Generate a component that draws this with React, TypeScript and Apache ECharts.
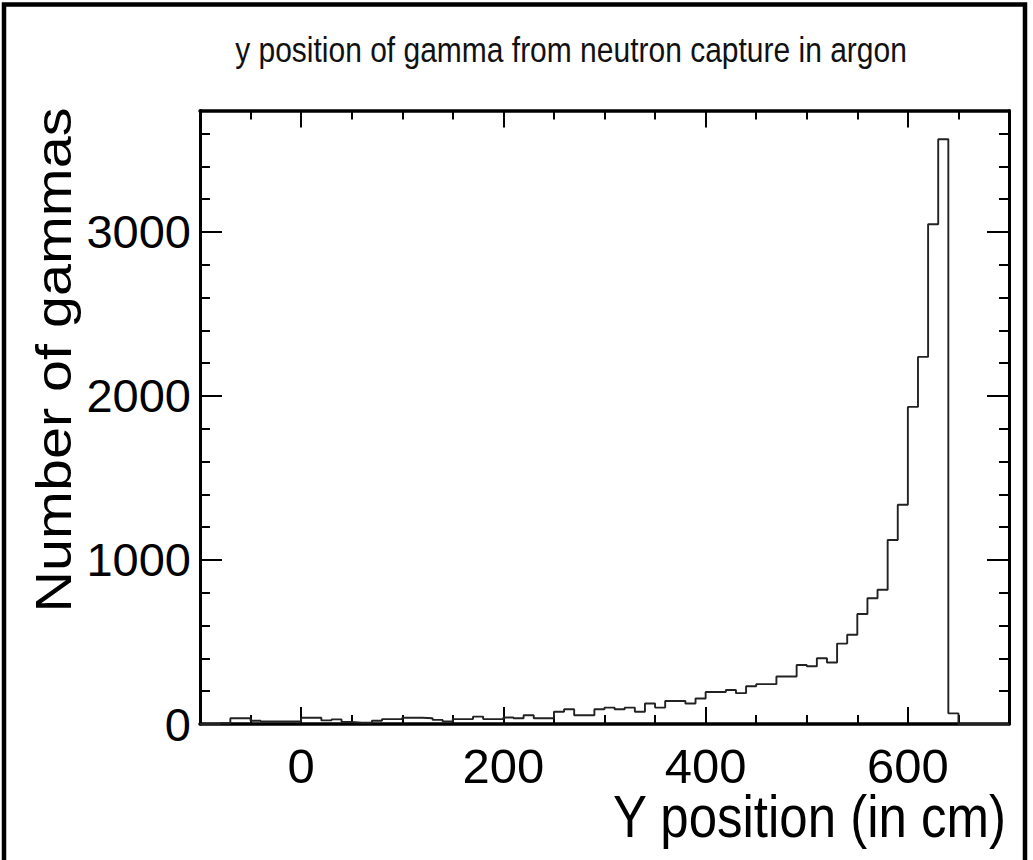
import React, { useEffect, useRef } from "react";
import * as echarts from "echarts";

// Histogram definition: 80 bins of 10 cm from -100 cm
const binStart = -100;
const binWidth = 10;
const counts = [
  0, 0, 5, 35, 35, 20, 15, 15, 15, 15,
  38, 38, 22, 28, 12, 8, 8, 20, 30, 30,
  38, 38, 35, 25, 15, 30, 30, 45, 30, 30,
  40, 35, 53, 35, 35, 75, 90, 53, 53, 90,
  100, 90, 100, 75, 125, 100, 140, 140, 125, 155,
  195, 195, 207, 188, 230, 243, 243, 290, 290, 360,
  352, 401, 375, 490, 544, 671, 767, 818, 1122, 1337,
  1933, 2238, 3047, 3565, 65, 0, 0, 0, 0, 0,
];

const xMin = -100;
const xMax = 700;
const yMin = 0;
const yMax = 3740;
const xMajorTicks = [0, 200, 400, 600];
const xMinorTicks = [-50, 50, 100, 150, 250, 300, 350, 450, 500, 550, 650];
const yMajorTicks = [0, 1000, 2000, 3000];
const yMinorTicks = [200, 400, 600, 800, 1200, 1400, 1600, 1800, 2200, 2400, 2600, 2800, 3200, 3400, 3600];

const chartTitle = "y position of gamma from neutron capture in argon";
const xTitle = "Y position (in cm)";
const yTitle = "Number of gammas";

const FONT = '"Liberation Sans", Arial, Helvetica, sans-serif';

export default function App() {
  const ref = useRef<HTMLDivElement>(null);

  useEffect(() => {
    if (!ref.current) return;
    const chart = echarts.init(ref.current, undefined, { renderer: "svg" });

    const data: [number, number][] = counts.map((c, i) => [binStart + i * binWidth, c]);
    data.push([binStart + counts.length * binWidth, counts[counts.length - 1]]);

    const tickStyle = { color: "#000", width: 2 };
    const plain = (v: number) => String(v);

    const xAxisBase = (position: "top" | "bottom", major: boolean, showLine: boolean, showLabel: boolean) => ({
      type: "value",
      position,
      min: xMin,
      max: xMax,
      splitLine: { show: false },
      axisLine: { show: showLine, onZero: false, lineStyle: { color: "#000", width: 3.5 } },
      axisTick: {
        show: true,
        inside: true,
        length: major ? 17 : 9,
        customValues: major ? xMajorTicks : xMinorTicks,
        lineStyle: tickStyle,
      },
      axisLabel: showLabel
        ? {
            show: true,
            customValues: xMajorTicks,
            formatter: plain,
            fontSize: 49,
            fontFamily: FONT,
            color: "#000",
            margin: 17,
          }
        : { show: false },
    });

    const yAxisBase = (position: "left" | "right", major: boolean, showLine: boolean, showLabel: boolean) => ({
      type: "value",
      position,
      min: yMin,
      max: yMax,
      splitLine: { show: false },
      axisLine: { show: showLine, onZero: false, lineStyle: { color: "#000", width: 3 } },
      axisTick: {
        show: true,
        inside: true,
        length: major ? 22 : 10,
        customValues: major ? yMajorTicks : yMinorTicks,
        lineStyle: tickStyle,
      },
      axisLabel: showLabel
        ? {
            show: true,
            customValues: yMajorTicks,
            formatter: plain,
            fontSize: 47,
            fontFamily: FONT,
            color: "#000",
            margin: 9,
          }
        : { show: false },
    });

    chart.setOption({
      animation: false,
      backgroundColor: "#fff",
      grid: {
        left: 200,
        right: 24,
        top: 110.5,
        bottom: 136,
        containLabel: false,
        outerBoundsMode: "none",
      },
      xAxis: [
        xAxisBase("bottom", true, true, true),
        xAxisBase("bottom", false, false, false),
        xAxisBase("top", true, true, false),
        xAxisBase("top", false, false, false),
      ],
      yAxis: [
        yAxisBase("left", true, true, true),
        yAxisBase("left", false, false, false),
        yAxisBase("right", true, true, false),
        yAxisBase("right", false, false, false),
      ],
      series: [
        {
          type: "line",
          xAxisIndex: 0,
          yAxisIndex: 0,
          step: "end",
          symbol: "none",
          data,
          lineStyle: { color: "#222", width: 1.9 },
          z: 1,
        },
      ],
      graphic: [
        {
          type: "rect",
          shape: { x: 4, y: 4.5, width: 1021, height: 900 },
          style: { fill: "none", stroke: "#000", lineWidth: 4.5 },
          silent: true,
        },
        {
          type: "text",
          x: 571,
          y: 50,
          scaleY: 1.15,
          style: {
            text: chartTitle,
            fontSize: 30,
            fontFamily: FONT,
            fill: "#111",
            align: "center",
            verticalAlign: "middle",
            textAlign: "center",
            textVerticalAlign: "middle",
          },
        },
        {
          type: "text",
          x: 1006,
          y: 817,
          scaleY: 1.15,
          style: {
            text: xTitle,
            fontSize: 51,
            fontFamily: FONT,
            fill: "#000",
            align: "right",
            verticalAlign: "middle",
            textAlign: "right",
            textVerticalAlign: "middle",
          },
        },
        {
          type: "text",
          x: 53,
          y: 360,
          rotation: Math.PI / 2,
          scaleX: 1.15,
          style: {
            text: yTitle,
            fontSize: 50,
            fontFamily: FONT,
            fill: "#000",
            align: "center",
            verticalAlign: "middle",
            textAlign: "center",
            textVerticalAlign: "middle",
          },
        },
      ],
    });

    return () => chart.dispose();
  }, []);

  return (
    <div
      ref={ref}
      style={{ position: "absolute", left: 0, top: 0, width: 1033, height: 860, background: "#fff" }}
    />
  );
}
